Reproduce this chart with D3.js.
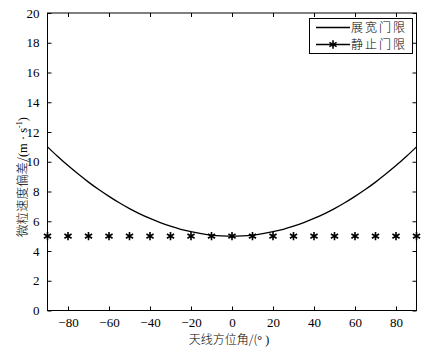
<!DOCTYPE html>
<html>
<head>
<meta charset="utf-8">
<script src="https://cdn.jsdelivr.net/npm/d3@7"></script>
<style>
  html, body { margin: 0; padding: 0; background: #fff; }
  svg { display: block; }
  .tick text { font-family: "Liberation Serif", "DejaVu Serif", serif; font-size: 13px; fill: #000; }
</style>
</head>
<body>
<svg id="chart" width="423" height="348"></svg>
<script>
// Antenna azimuth (degrees) for the broadened threshold curve
const azimuth = [-90,-85,-80,-75,-70,-65,-60,-55,-50,-45,-40,-35,-30,-25,-20,-15,-10,-5,0,
                 5,10,15,20,25,30,35,40,45,50,55,60,65,70,75,80,85,90];
// Broadened threshold (m/s)
const broadened = [11.00,10.35,9.74,9.17,8.63,8.13,7.67,7.24,6.85,6.50,6.19,5.91,5.67,5.46,5.30,5.17,5.07,5.02,5.00,
                   5.02,5.07,5.17,5.30,5.46,5.67,5.91,6.19,6.50,6.85,7.24,7.67,8.13,8.63,9.17,9.74,10.35,11.00];
// Static threshold markers
const staticAz = [-90,-80,-70,-60,-50,-40,-30,-20,-10,0,10,20,30,40,50,60,70,80,90];
const staticVal = [5,5,5,5,5,5,5,5,5,5,5,5,5,5,5,5,5,5,5];
// Axis ticks
const xTicks = [-80,-60,-40,-20,0,20,40,60,80];
const yTicks = [0,2,4,6,8,10,12,14,16,18,20];
const legendLabels = ["展宽门限", "静止门限"];

const svg = d3.select("#chart");
const L = 47.5, R = 416.5, T = 13, B = 310.5;

const x = d3.scaleLinear().domain([-90, 90]).range([L, R]);
const y = d3.scaleLinear().domain([0, 20]).range([B, T]);

const fmt = d => (d < 0 ? "\u2212" + Math.abs(d) : String(d));

// bottom axis with inward ticks
const gx = svg.append("g").attr("transform", `translate(0,${B})`)
  .call(d3.axisBottom(x).tickValues(xTicks).tickSize(-4).tickPadding(7).tickFormat(fmt));
gx.select(".domain").remove();
gx.selectAll(".tick line").attr("stroke", "#000");

// top ticks
const gxt = svg.append("g").attr("transform", `translate(0,${T})`)
  .call(d3.axisTop(x).tickValues(xTicks).tickSize(-4).tickFormat(""));
gxt.select(".domain").remove();
gxt.selectAll(".tick line").attr("stroke", "#000");

// left axis
const gy = svg.append("g").attr("transform", `translate(${L},0)`)
  .call(d3.axisLeft(y).tickValues(yTicks).tickSize(-4).tickPadding(8).tickFormat(fmt));
gy.select(".domain").remove();
gy.selectAll(".tick line").attr("stroke", "#000");

// right ticks
const gyr = svg.append("g").attr("transform", `translate(${R},0)`)
  .call(d3.axisRight(y).tickValues(yTicks).tickSize(-4).tickFormat(""));
gyr.select(".domain").remove();
gyr.selectAll(".tick line").attr("stroke", "#000");

// broadened threshold curve
const line = d3.line().x((d, i) => x(azimuth[i])).y(d => y(d)).curve(d3.curveMonotoneX);
svg.append("path").datum(broadened).attr("d", line)
  .attr("fill", "none").attr("stroke", "#000").attr("stroke-width", 1.3);

// static threshold markers
const star = d3.symbol().type(d3.symbolAsterisk).size(48);
svg.append("g").selectAll("path").data(staticVal).join("path")
  .attr("transform", (d, i) => `translate(${x(staticAz[i])},${y(d)})`)
  .attr("d", star).attr("fill", "none").attr("stroke", "#000").attr("stroke-width", 1.6);

// border
svg.append("rect").attr("x", L).attr("y", T).attr("width", R - L).attr("height", B - T)
  .attr("fill", "none").attr("stroke", "#000").attr("stroke-width", 1);

// legend
const lg = svg.append("g");
lg.append("rect").attr("x", 309.5).attr("y", 18.5).attr("width", 103).attr("height", 35)
  .attr("fill", "#fff").attr("stroke", "#000").attr("stroke-width", 1);
legendLabels.forEach((t, i) => {
  const yy = 27.5 + i * 17;
  lg.append("line").attr("x1", 316).attr("x2", 350).attr("y1", yy).attr("y2", yy)
    .attr("stroke", "#000").attr("stroke-width", 1.3);
  if (i === 1) {
    lg.append("path").attr("transform", `translate(333,${yy})`).attr("d", star)
      .attr("fill", "none").attr("stroke", "#000").attr("stroke-width", 1.6);
  }
  lg.append("text").attr("x", 351).attr("y", yy + 4.5).text(t)
    .attr("font-family", "'Noto Sans CJK SC', sans-serif").attr("font-size", 12)
    .attr("textLength", 54).attr("lengthAdjust", "spacing")
    .attr("font-weight", 300).attr("fill", "#000");
});

// axis titles
const xt = svg.append("text").attr("x", 229).attr("y", 343.5).attr("text-anchor", "middle")
  .attr("font-family", "'Noto Sans CJK SC', sans-serif").attr("font-size", 12)
  .attr("font-weight", 300).attr("fill", "#000");
xt.append("tspan").text("天线方位角/(");
xt.append("tspan").attr("font-family", "'Liberation Serif', serif").text("°  )");

const yt = svg.append("text").attr("transform", "translate(27,177) rotate(-90)")
  .attr("text-anchor", "middle")
  .attr("font-family", "'Noto Sans CJK SC', sans-serif").attr("font-size", 12.5)
  .attr("font-weight", 300).attr("fill", "#000");
yt.append("tspan").text("微粒速度偏差/");
yt.append("tspan").attr("font-family", "'Liberation Serif', serif").text("(m · s");
yt.append("tspan").attr("font-family", "'Liberation Serif', serif").attr("font-size", 8).attr("dy", -5).text("-1");
yt.append("tspan").attr("font-family", "'Liberation Serif', serif").attr("dy", 5).text(")");
</script>
</body>
</html>
